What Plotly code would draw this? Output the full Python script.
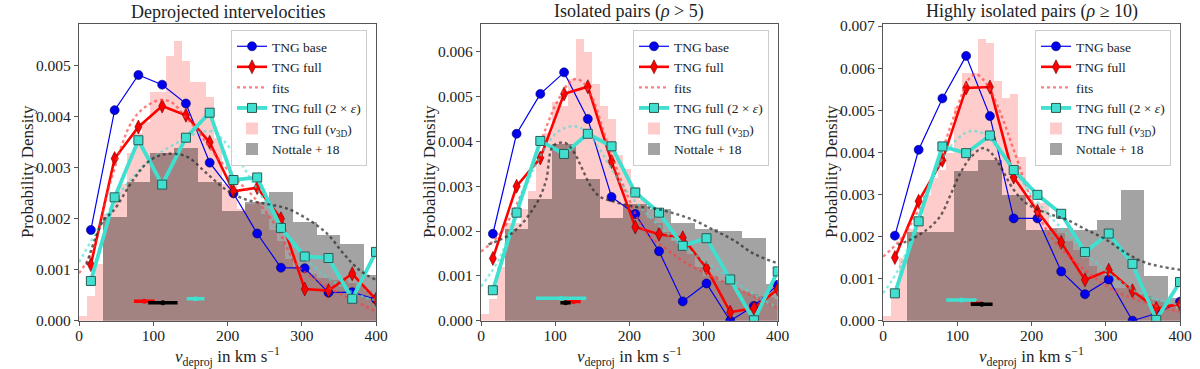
import plotly.graph_objects as go

FONT = "Liberation Serif"

# ---------------- data ----------------
v_mid = [16, 48, 80, 112, 144, 176, 208, 240, 272, 304, 336, 368, 400]

base_p1 = [0.00178, 0.00413, 0.00482, 0.00463, 0.00426, 0.00310, 0.00250, 0.00171, 0.00104, 0.00103, 0.00055, 0.00056, 0.00042]
full_p1 = [0.00110, 0.00318, 0.00380, 0.00421, 0.00403, 0.00350, 0.00254, 0.00261, 0.00200, 0.00062, 0.00059, 0.00092, 0.00042]
eps_p1 = [0.00078, 0.00242, 0.00354, 0.00267, 0.00359, 0.00408, 0.00276, 0.00281, 0.00182, 0.00126, 0.00123, 0.00043, 0.00135]

base_p2 = [0.00194, 0.00417, 0.00506, 0.00554, 0.00450, 0.00276, 0.00238, 0.00155, 0.00043, 0.00083, 0.00000, 0.00033, 0.00080]
full_p2 = [0.00139, 0.00300, 0.00363, 0.00506, 0.00522, 0.00355, 0.00209, 0.00193, 0.00185, 0.00117, 0.00019, 0.00028, 0.00070]
eps_p2 = [0.00068, 0.00241, 0.00401, 0.00372, 0.00417, 0.00389, 0.00286, 0.00241, 0.00167, 0.00184, 0.00092, 0.00001, 0.00110]

base_p3 = [0.00202, 0.00406, 0.00528, 0.00629, 0.00486, 0.00243, 0.00243, 0.00117, 0.00063, 0.00098, 0.00000, 0.00017, 0.00045]
full_p3 = [0.00150, 0.00284, 0.00381, 0.00553, 0.00555, 0.00341, 0.00260, 0.00186, 0.00097, 0.00120, 0.00071, 0.00029, 0.00040]
eps_p3 = [0.00065, 0.00236, 0.00414, 0.00398, 0.00440, 0.00358, 0.00299, 0.00254, 0.00163, 0.00207, 0.00135, 0.00002, 0.00092]

full_err = [0.00008, 0.00009, 0.00009, 0.00010, 0.00010, 0.00009, 0.00008, 0.00008, 0.00007, 0.00005, 0.00005, 0.00006, 0.00004]

# Nottale+18 histogram (bins of 32 km/s starting at 0)
nott_width = 32
nott_p1 = [0.0, 0.00205, 0.00274, 0.00329, 0.00340, 0.00274, 0.00217, 0.00233, 0.00254, 0.00194, 0.00169, 0.00151, 0.00090]
nott_p2 = [0.0, 0.00206, 0.00272, 0.00395, 0.00318, 0.00231, 0.00262, 0.00251, 0.00219, 0.00206, 0.00202, 0.00186, 0.00082]
nott_p3 = [0.0, 0.00213, 0.00213, 0.00357, 0.00384, 0.00299, 0.00217, 0.00222, 0.00216, 0.00240, 0.00311, 0.00108, 0.00056]

# TNG full (v3D) histogram (bins of 32/3 km/s starting at 0)
v3d_width = 32 / 3
v3d_p1 = [0.0001, 0.0005, 0.00113, 0.0021, 0.0024, 0.0027, 0.0033, 0.0037, 0.0039, 0.0045,
          0.0045, 0.0052, 0.0055, 0.0051, 0.0047, 0.0047, 0.0044, 0.0036, 0.0027, 0.0027,
          0.0022, 0.0023, 0.0023, 0.0021, 0.00178, 0.00158, 0.00123, 0.00106, 0.0010, 0.00093,
          0.00084, 0.00084, 0.0008, 0.0008, 0.00075, 0.0007, 0.0006, 0.0005]
v3d_p2 = [0.00015, 0.0005, 0.0012, 0.0022, 0.0022, 0.0025, 0.0029, 0.0036, 0.0042, 0.0049,
          0.0048, 0.0054, 0.0063, 0.0060, 0.0053, 0.0048, 0.0045, 0.0037, 0.0034, 0.0030,
          0.0027, 0.0023, 0.0022, 0.0020, 0.0018, 0.0018, 0.0015, 0.0012, 0.0010, 0.0010,
          0.0009, 0.0008, 0.0007, 0.00065, 0.0006, 0.00057, 0.00055, 0.0005]
v3d_p3 = [0.00013, 0.0007, 0.0015, 0.0022, 0.0025, 0.0030, 0.0034, 0.0036, 0.0040, 0.0051,
          0.0059, 0.0059, 0.0067, 0.0066, 0.0057, 0.0053, 0.0054, 0.0039, 0.0030, 0.0028,
          0.0028, 0.0022, 0.0021, 0.0019, 0.0017, 0.0015, 0.0013, 0.0011, 0.0009, 0.0008,
          0.0008, 0.0007, 0.00065, 0.0006, 0.0005, 0.00045, 0.0004, 0.0003]

# fitted curves
fitred_x_p1 = [0, 19, 42, 71, 90, 109, 125, 143, 160, 181, 210, 235, 266, 293, 320, 342, 370, 400]
fitred_y_p1 = [0.00093, 0.00140, 0.00270, 0.00390, 0.00420, 0.00433, 0.00428, 0.00400, 0.00372, 0.00330, 0.00280, 0.00243, 0.00184, 0.00110, 0.00080, 0.00060, 0.00040, 0.00018]
fitcy_x_p1 = [0, 30, 60, 100, 131, 163, 181, 208, 239, 272, 300, 330, 360, 387, 400]
fitcy_y_p1 = [0.00115, 0.00190, 0.00260, 0.00320, 0.00348, 0.00370, 0.00370, 0.00330, 0.00260, 0.00184, 0.00130, 0.00090, 0.00062, 0.00045, 0.00040]
fitbk_x_p1 = [10, 33, 46, 73, 96, 118, 145, 172, 199, 226, 253, 280, 307, 334, 356, 378, 400]
fitbk_y_p1 = [0.00110, 0.00197, 0.00215, 0.00276, 0.00315, 0.00327, 0.00322, 0.00289, 0.00256, 0.00237, 0.00229, 0.00220, 0.00200, 0.00171, 0.00132, 0.00099, 0.00080]

fitred_x_p2 = [0, 26, 53, 80, 102, 124, 136, 151, 169, 196, 223, 250, 277, 322, 367, 400]
fitred_y_p2 = [0.00154, 0.00195, 0.00277, 0.00396, 0.00486, 0.00538, 0.00534, 0.00493, 0.00404, 0.00285, 0.00195, 0.00160, 0.00128, 0.00091, 0.00054, 0.00028]
fitcy_x_p2 = [0, 26, 53, 80, 102, 124, 142, 160, 187, 214, 241, 268, 295, 322, 349, 376, 400]
fitcy_y_p2 = [0.00076, 0.00143, 0.00270, 0.00367, 0.00419, 0.00434, 0.00422, 0.00382, 0.00310, 0.00255, 0.00210, 0.00170, 0.00140, 0.00110, 0.00080, 0.00050, 0.00030]
fitbk_x_p2 = [10, 25, 39, 54, 68, 79, 88, 97, 113, 126, 135, 148, 160, 178, 205, 232, 259, 286, 313, 340, 367, 400]
fitbk_y_p2 = [0.00170, 0.00180, 0.00192, 0.00214, 0.00244, 0.00274, 0.00315, 0.00389, 0.00397, 0.00374, 0.00344, 0.00300, 0.00277, 0.00266, 0.00255, 0.00251, 0.00240, 0.00225, 0.00203, 0.00180, 0.00150, 0.00128]

fitred_x_p3 = [0, 23, 50, 77, 99, 117, 126, 140, 158, 176, 202, 229, 256, 283, 310, 337, 364, 400]
fitred_y_p3 = [0.00152, 0.00192, 0.00270, 0.00390, 0.00502, 0.00577, 0.00585, 0.00561, 0.00494, 0.00406, 0.00279, 0.00192, 0.00144, 0.00105, 0.00073, 0.00053, 0.00037, 0.00021]
fitcy_x_p3 = [0, 23, 50, 77, 99, 117, 133, 149, 176, 202, 229, 256, 283, 310, 337, 364, 400]
fitcy_y_p3 = [0.00065, 0.00129, 0.00256, 0.00375, 0.00430, 0.00450, 0.00446, 0.00422, 0.00359, 0.00295, 0.00240, 0.00192, 0.00144, 0.00105, 0.00073, 0.00053, 0.00037]
fitbk_x_p3 = [20, 36, 59, 77, 90, 104, 119, 135, 146, 158, 176, 193, 220, 247, 274, 301, 328, 355, 400]
fitbk_y_p3 = [0.00180, 0.00192, 0.00216, 0.00248, 0.00295, 0.00350, 0.00390, 0.00410, 0.00398, 0.00367, 0.00311, 0.00279, 0.00256, 0.00240, 0.00216, 0.00192, 0.00160, 0.00137, 0.00121]

# peak estimates with uncertainty (horizontal bars near the bottom)
peak_full = [(88, 14, 0.00038), (124.7, 9.7, 0.00043), (125.5, 7.5, 0.00041)]
peak_nott = [(113, 19.8, 0.00035), (114, 7, 0.00040), (133, 14.6, 0.00039)]
peak_eps = [(157, 12, 0.00043), (108, 34, 0.00050), (105.5, 20.5, 0.00049)]

titles = ["Deprojected intervelocities", "Isolated pairs (<i>ρ</i> &gt; 5)", "Highly isolated pairs (<i>ρ</i> ≥ 10)"]
y_max = [0.00583, 0.00663, 0.00706]
y_ticks = [[0, 0.001, 0.002, 0.003, 0.004, 0.005],
           [0, 0.001, 0.002, 0.003, 0.004, 0.005, 0.006],
           [0, 0.001, 0.002, 0.003, 0.004, 0.005, 0.006, 0.007]]
x_ticks = [0, 100, 200, 300, 400]

panels = [
    (base_p1, full_p1, eps_p1, nott_p1, v3d_p1,
     (fitred_x_p1, fitred_y_p1), (fitcy_x_p1, fitcy_y_p1), (fitbk_x_p1, fitbk_y_p1)),
    (base_p2, full_p2, eps_p2, nott_p2, v3d_p2,
     (fitred_x_p2, fitred_y_p2), (fitcy_x_p2, fitcy_y_p2), (fitbk_x_p2, fitbk_y_p2)),
    (base_p3, full_p3, eps_p3, nott_p3, v3d_p3,
     (fitred_x_p3, fitred_y_p3), (fitcy_x_p3, fitcy_y_p3), (fitbk_x_p3, fitbk_y_p3)),
]

# ---------------- layout geometry ----------------
W, H = 1200, 369
x_dom = [(79, 376), (481, 777.7), (883, 1180)]
y_top, y_bot = 23.5, 320.7
legend_left = [231, 633, 1035]

TURQ = "#40E0D0"
fig = go.Figure()

for i, (base, full, eps, nott, v3d, fr, fc, fb) in enumerate(panels):
    sfx = "" if i == 0 else str(i + 1)
    xa, ya = "x" + sfx, "y" + sfx
    lg = "legend" + sfx
    common = dict(xaxis=xa, yaxis=ya, legend=lg)

    fig.add_trace(go.Scatter(x=v_mid, y=base, mode="lines+markers", name="TNG base",
                             line=dict(color="#0000EE", width=1.2),
                             marker=dict(symbol="circle", size=9, color="#0000EE",
                                         line=dict(color="#000066", width=0.6)),
                             legendrank=1, **common))
    fig.add_trace(go.Scatter(x=v_mid, y=full, mode="lines+markers", name="TNG full",
                             line=dict(color="#FF0000", width=2.6),
                             marker=dict(symbol="diamond-tall", size=10, color="#FF0000",
                                         line=dict(color="#660000", width=0.6)),
                             error_y=dict(type="data", array=full_err, color="#550000",
                                          thickness=1.2, width=0),
                             legendrank=2, **common))
    fig.add_trace(go.Scatter(x=fr[0], y=fr[1], mode="lines", name="fits",
                             line=dict(color="rgba(255,60,60,0.65)", width=2.4, dash="dot", shape="spline"),
                             legendrank=3, **common))
    fig.add_trace(go.Scatter(x=v_mid, y=eps, mode="lines+markers", name="TNG full (2 × <i>ε</i>)",
                             line=dict(color=TURQ, width=3.8),
                             marker=dict(symbol="square", size=9, color=TURQ,
                                         line=dict(color="#2a5a55", width=1)),
                             legendrank=4, **common))
    fig.add_trace(go.Scatter(x=fc[0], y=fc[1], mode="lines", showlegend=False,
                             line=dict(color="rgba(64,224,208,0.6)", width=2.4, dash="dot", shape="spline"),
                             **common))
    fig.add_trace(go.Scatter(x=fb[0], y=fb[1], mode="lines", showlegend=False,
                             line=dict(color="rgba(40,40,40,0.7)", width=2.4, dash="dot", shape="spline"),
                             **common))
    fig.add_trace(go.Bar(x=[(k + 0.5) * v3d_width for k in range(len(v3d))], y=v3d,
                         width=v3d_width, name="TNG full (<i>v</i><sub>3D</sub>)",
                         marker=dict(color="rgba(255,0,0,0.2)", line=dict(width=0)),
                         legendrank=5, **common))
    fig.add_trace(go.Bar(x=[(k + 0.5) * nott_width for k in range(len(nott))], y=nott,
                         width=nott_width, name="Nottale + 18",
                         marker=dict(color="rgba(0,0,0,0.36)", line=dict(width=0)),
                         legendrank=6, **common))
    for (c, e, yy), col in [(peak_full[i], "#FF0000"), (peak_nott[i], "#000000"), (peak_eps[i], TURQ)]:
        fig.add_trace(go.Scatter(x=[c], y=[yy], mode="markers", showlegend=False,
                                 marker=dict(size=5, color=col),
                                 error_x=dict(type="constant", value=e, color=col, thickness=3.5, width=0),
                                 **common))

    x0, x1 = x_dom[i]
    axis_font = dict(family=FONT, size=15.5, color="#222")
    fig.layout["xaxis" + sfx] = dict(domain=[x0 / W, x1 / W], anchor=ya, range=[0, 400],
                                     tickvals=x_ticks, showgrid=False, zeroline=False, automargin=False,
                                     showline=True, mirror=True, linecolor="#555", linewidth=1.2,
                                     ticks="outside", ticklen=4, tickcolor="#555", tickfont=axis_font,
                                     ticklabelstandoff=-3)
    fig.layout["yaxis" + sfx] = dict(domain=[1 - y_bot / H, 1 - y_top / H], anchor=xa,
                                     range=[0, y_max[i]], tickvals=y_ticks[i], tickformat=".3f",
                                     showgrid=False, zeroline=False, automargin=False,
                                     showline=True, mirror=True, linecolor="#555", linewidth=1.2,
                                     ticks="outside", ticklen=4, tickcolor="#555", tickfont=axis_font)
    fig.layout[lg] = dict(x=legend_left[i] / W, y=1 - 30 / H, xanchor="left", yanchor="top",
                          bgcolor="rgba(255,255,255,0.85)", bordercolor="#cccccc", borderwidth=1,
                          font=dict(family=FONT, size=13.5, color="#222"), itemwidth=30,
                          tracegroupgap=0, traceorder="normal")

    xc = (x0 + x1) / 2
    fig.add_annotation(x=xc / W, y=1 - 12 / H, xref="paper", yref="paper", text=titles[i],
                       showarrow=False, font=dict(family=FONT, size=18, color="#222"),
                       xanchor="center", yanchor="middle")
    fig.add_annotation(x=xc / W, y=1 - 356 / H, xref="paper", yref="paper",
                       text="<i>v</i><sub>deproj</sub> in km s<sup>−1</sup>",
                       showarrow=False, font=dict(family=FONT, size=17, color="#222"),
                       xanchor="center", yanchor="middle")
    fig.add_annotation(x=(x0 - 52) / W, y=1 - ((y_top + y_bot) / 2) / H, xref="paper", yref="paper",
                       text="Probability Density", textangle=-90,
                       showarrow=False, font=dict(family=FONT, size=17, color="#222"),
                       xanchor="center", yanchor="middle")

fig.update_layout(width=W, height=H, margin=dict(l=0, r=0, t=0, b=0, autoexpand=False),
                  paper_bgcolor="white", plot_bgcolor="white", barmode="overlay", bargap=0,
                  font=dict(family=FONT))

fig.write_html("out.html", config={"displayModeBar": False},
               post_script="document.body.style.margin='0';")
